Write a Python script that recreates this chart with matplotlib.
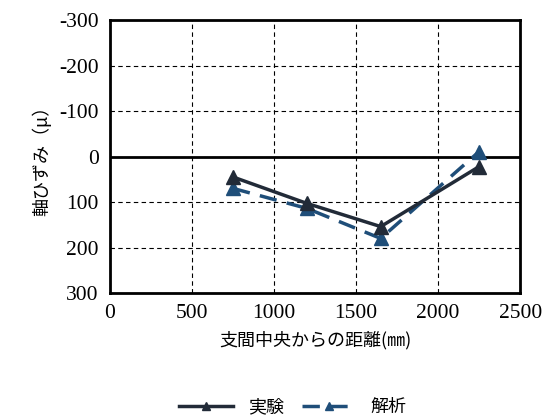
import matplotlib.pyplot as plt

plt.rcParams['font.family'] = ['Liberation Serif', 'Noto Sans CJK JP']
plt.rcParams['axes.unicode_minus'] = False

x = [750, 1200, 1650, 2250]
jikken = [45, 103, 154, 22]
kaiseki = [70, 114, 180, -11]

xticks = [0, 500, 1000, 1500, 2000, 2500]
yticks = [-300, -200, -100, 0, 100, 200, 300]

fig = plt.figure(figsize=(5.47, 4.18), dpi=100)
ax = fig.add_axes([0.201, 0.299, 0.750, 0.653])

c1 = '#222b38'
c2 = '#1f4e79'
ax.plot(x, kaiseki, label='解析', color=c2, linestyle=(0, (5, 3)), linewidth=2.5,
        marker='^', markersize=10, zorder=3)
ax.plot(x, jikken, label='実験', color=c1, linewidth=2.5, marker='^', markersize=10, zorder=4)

ax.axhline(0, color='black', linewidth=2, zorder=2)

ax.set_xlim(0, 2500)
ax.set_ylim(300, -300)
ax.set_xticks(xticks)
ax.set_yticks(yticks)
ax.grid(True, color='black', linestyle=(0, (4, 3)), linewidth=0.8)
ax.tick_params(length=0, labelsize=15.5, pad=8)
for s in ax.spines.values():
    s.set_linewidth(2)
    s.set_color('black')

ax.set_xlabel('支間中央からの距離(㎜)', fontsize=13, family=['Noto Sans CJK JP'], labelpad=6)
ax.set_ylabel('軸ひずみ（μ）', fontsize=13, family=['Noto Sans CJK JP'], labelpad=6)

h, l = ax.get_legend_handles_labels()
fig.legend(h[::-1], l[::-1], loc='lower center', bbox_to_anchor=(0.535, -0.035), ncol=2,
           frameon=False, handlelength=3.0, columnspacing=1.0, markerscale=0.6,
           prop={'family': 'Noto Sans CJK JP', 'size': 13})

fig.savefig('out.png', dpi=100)
